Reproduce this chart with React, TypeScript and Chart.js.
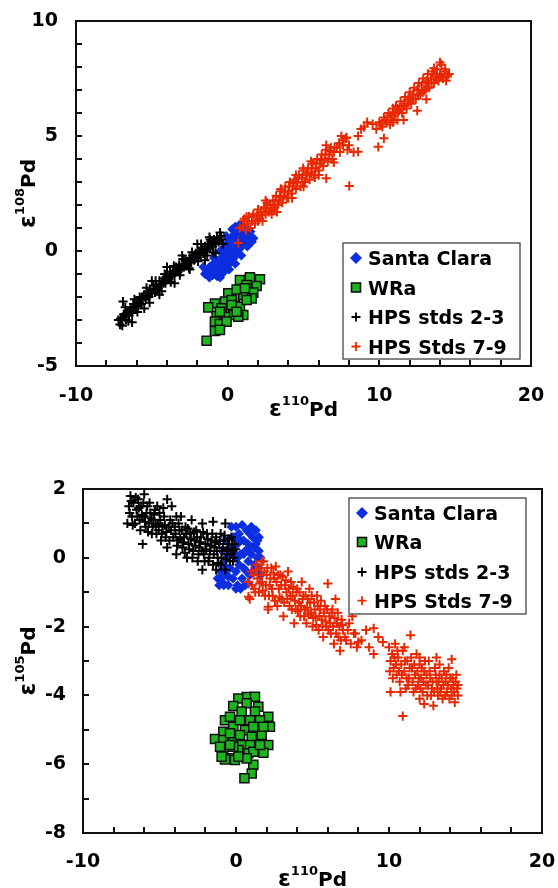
import React, { useEffect, useRef } from 'react';
import { Chart, registerables } from 'chart.js';

Chart.register(...registerables);

type P = [number, number];

const seriesNames = ['Santa Clara', 'WRa', 'HPS stds 2-3', 'HPS Stds 7-9'];
const seriesColors = ['#0b2fe0', '#1db51d', '#000000', '#e82800'];

const xTickLabels = [-10, 0, 10, 20];
const topYTickLabels = [-5, 0, 5, 10];
const bottomYTickLabels = [-8, -6, -4, -2, 0, 2];

// ---- top panel: e110Pd vs e108Pd ----
const topSantaClara: P[] = [
  [-1.4, -0.85], [-1.3, -1.0], [-1.2, -0.7], [-1.1, -0.9], [-1.0, -1.05], [-1.0, -0.6], [-0.9, -0.8],
  [-0.8, -0.5], [-0.8, -1.0], [-0.7, -0.7], [-0.6, -0.4], [-0.6, -0.9], [-0.5, -0.6], [-0.4, -0.3],
  [-0.4, -0.8], [-0.3, -0.5], [-0.2, -0.2], [-0.2, -0.7], [-0.1, -0.4], [0.0, -0.1], [0.0, -0.6],
  [0.1, -0.3], [0.2, 0.1], [0.2, -0.5], [0.3, -0.2], [0.4, 0.3], [0.4, -0.3], [0.5, 0.0], [0.6, 0.5],
  [0.6, -0.1], [0.7, 0.2], [0.8, 0.8], [0.8, 0.1], [0.9, 0.5], [1.0, 0.9], [1.0, 0.3], [1.1, 0.6],
  [1.2, 0.8], [1.3, 0.5], [1.4, 0.7], [1.5, 0.6], [0.6, 1.0], [0.4, 0.7], [0.2, 0.5], [-0.2, 0.2],
  [1.6, 0.4], [1.7, 0.55], [1.3, 0.95], [0.9, 1.1], [-1.5, -1.0], [-1.2, -1.15], [-0.7, -1.1],
  [-0.3, -0.95], [0.1, -0.8], [0.5, -0.55], [0.9, -0.2], [1.3, 0.2], [-1.6, -0.7], [-0.9, -0.3],
  [-0.5, 0.0], [0.0, 0.35], [0.5, 0.75], [0.3, 0.95], [0.8, 1.15], [1.1, 1.05], [0.5, 1.05],
  [1.5, 0.85], [-0.1, 0.65], [-0.5, -1.15],
];

const topWRa: P[] = [
  [1.47, -1.14], [2.13, -1.23], [0.81, -1.26], [1.91, -1.52], [1.25, -1.48], [1.69, -1.81],
  [0.48, -1.99], [1.03, -1.91], [0.04, -1.84], [-0.18, -2.2], [-0.84, -2.28], [-1.28, -2.45],
  [0.15, -2.49], [0.81, -2.42], [-0.4, -2.49], [-0.73, -2.83], [0.37, -2.78], [1.03, -2.78],
  [-0.18, -2.86], [-0.84, -3.07], [-0.51, -3.17], [-0.84, -3.48], [-1.39, -3.9], [0.7, -2.86],
  [0.26, -2.13], [1.58, -2.06], [1.25, -2.13], [0.59, -1.67], [1.14, -1.62], [0.26, -2.35],
  [-0.51, -2.64], [0.59, -2.64], [-0.07, -3.07], [-0.51, -3.43],
];

const topHpsStds23: P[] = [
  [-7.2, -3.0], [-7.1, -3.2], [-7.0, -2.9], [-6.9, -2.2], [-6.95, -3.25], [-6.8, -2.8], [-6.7, -3.0],
  [-6.6, -2.6], [-6.5, -2.8], [-6.4, -2.5], [-6.3, -2.7], [-6.2, -2.3], [-6.1, -2.5], [-6.0, -2.2],
  [-5.9, -2.4], [-5.8, -2.0], [-5.7, -2.3], [-5.6, -2.1], [-5.5, -1.9], [-5.4, -2.1], [-5.3, -1.8],
  [-5.2, -2.0], [-5.1, -1.7], [-5.0, -1.8], [-4.9, -1.5], [-4.8, -1.8], [-4.7, -1.5], [-4.6, -1.6],
  [-4.5, -1.3], [-4.4, -1.5], [-4.3, -1.3], [-4.2, -1.2], [-4.1, -1.4], [-4.0, -1.1], [-3.9, -1.2],
  [-3.8, -0.9], [-3.7, -1.1], [-3.6, -0.9], [-3.5, -1.0], [-3.4, -0.7], [-3.3, -0.9], [-3.2, -0.6],
  [-3.1, -0.8], [-3.0, -0.6], [-2.9, -0.7], [-2.8, -0.4], [-2.7, -0.6], [-2.6, -0.5], [-2.5, -0.3],
  [-2.4, -0.5], [-2.3, -0.2], [-2.2, -0.4], [-2.1, -0.1], [-2.0, -0.3], [-1.9, 0.0], [-1.8, -0.2],
  [-1.7, 0.1], [-1.6, -0.1], [-1.5, 0.2], [-1.4, 0.0], [-1.3, 0.3], [-1.2, 0.1], [-1.1, 0.4],
  [-1.0, 0.2], [-0.9, 0.5], [-0.8, 0.3], [-0.7, 0.6], [-0.6, 0.4], [-0.5, 0.8], [-0.4, 0.5],
  [-0.3, 0.3], [-1.5, -0.4], [-2.5, -0.8], [-3.5, -1.4], [-4.5, -1.9], [-5.5, -2.5], [-6.3, -3.1],
  [-5.0, -1.3], [-4.0, -0.7], [-3.0, -0.2], [-2.0, 0.3], [-1.2, 0.6], [-0.8, -0.1],
  [-7.05, -2.95], [-6.85, -2.75], [-6.65, -2.7], [-6.45, -2.65], [-6.25, -2.45], [-6.05, -2.4],
  [-5.85, -2.25], [-5.65, -2.0], [-5.45, -2.0], [-5.25, -1.95], [-5.05, -1.85], [-4.85, -1.65],
  [-4.65, -1.7], [-4.45, -1.45], [-4.25, -1.4], [-4.05, -1.25], [-3.85, -1.15], [-3.65, -1.05],
  [-3.45, -0.85], [-3.25, -0.75], [-3.05, -0.75], [-2.85, -0.55], [-2.65, -0.45], [-2.45, -0.35],
  [-2.25, -0.3], [-2.05, -0.15], [-1.85, -0.1], [-1.65, 0.05], [-1.45, 0.1], [-1.25, 0.2],
  [-1.05, 0.3], [-0.85, 0.4], [-0.65, 0.5], [-0.45, 0.65], [-6.75, -2.45], [-6.15, -2.1],
  [-5.35, -1.6], [-4.75, -1.3], [-4.15, -1.0], [-3.55, -0.65], [-2.95, -0.35], [-2.35, -0.05],
  [-1.75, 0.3], [-1.15, 0.5], [-6.55, -3.05], [-5.95, -2.65], [-5.15, -2.25], [-4.35, -1.75],
  [-3.75, -1.35], [-3.15, -1.05], [-2.55, -0.75], [-1.95, -0.45], [-1.35, -0.2], [-0.95, -0.05],
];

const topHpsStds79: P[] = [
  [1.0, 1.1], [1.1, 1.4], [1.2, 0.9], [1.3, 1.2], [1.4, 1.5], [1.5, 1.0], [1.6, 1.3], [1.7, 1.6],
  [1.8, 1.2], [1.9, 1.5], [2.0, 1.8], [2.1, 1.4], [2.2, 1.7], [2.3, 1.3], [2.4, 1.9], [2.5, 1.6],
  [2.6, 2.1], [2.7, 1.7], [2.8, 2.0], [2.9, 1.6], [3.0, 2.2], [3.1, 1.9], [3.2, 2.4], [3.3, 2.0],
  [3.4, 2.2], [3.5, 2.6], [3.6, 2.1], [3.7, 2.4], [3.8, 2.8], [3.9, 2.3], [4.0, 2.6], [4.1, 3.0],
  [4.2, 2.5], [4.3, 2.8], [4.4, 3.1], [4.5, 2.7], [4.6, 3.0], [4.7, 3.3], [4.8, 2.8], [4.9, 3.2],
  [5.0, 3.5], [5.1, 3.0], [5.2, 3.3], [5.3, 3.6], [5.4, 3.1], [5.5, 3.4], [5.6, 3.8], [5.7, 3.3],
  [5.8, 3.6], [5.9, 4.0], [6.0, 3.5], [6.1, 3.8], [6.2, 4.2], [6.3, 3.7], [6.4, 4.0], [6.5, 4.4],
  [6.6, 3.9], [6.7, 4.2], [6.8, 4.5], [6.9, 4.0], [7.0, 4.3], [7.2, 4.5], [7.4, 4.3], [7.6, 4.6],
  [7.8, 4.9], [7.9, 4.4], [8.0, 4.6], [8.3, 4.3], [8.6, 5.0], [8.8, 5.3], [9.0, 5.4], [9.2, 5.6],
  [8.02, 2.83], [9.93, 4.53], [10.3, 4.9], [9.56, 5.52], [0.8, 1.0], [0.7, 0.35], [1.25, 1.49],
  [7.84, 4.94], [8.6, 4.32], [6.5, 3.16], [4.98, 3.6],
  [1.05, 1.3], [1.35, 1.3], [1.65, 1.5], [1.95, 1.6], [2.25, 1.55], [2.55, 1.85], [2.85, 1.8],
  [3.15, 2.2], [3.45, 2.35], [3.75, 2.55], [4.05, 2.8], [4.35, 2.95], [4.65, 3.15], [4.95, 3.0],
  [5.25, 3.4], [5.55, 3.6], [5.85, 3.8], [6.15, 3.95], [6.45, 4.2], [6.75, 4.35], [7.05, 4.5],
  [7.35, 4.7], [7.65, 4.8], [2.0, 1.3], [3.0, 1.75], [4.0, 2.3], [5.0, 2.8], [6.0, 3.3], [7.0, 3.85],
  [2.5, 2.2], [3.5, 2.7], [4.5, 3.3], [5.5, 3.9], [6.5, 4.6], [7.5, 5.0], [3.25, 1.7], [4.25, 2.3],
  [5.75, 3.2],
  [9.8, 5.3], [10.0, 5.6], [10.2, 5.4], [10.3, 5.8], [10.5, 5.6], [10.6, 6.0], [10.7, 5.5],
  [10.8, 5.8], [10.9, 6.2], [11.0, 5.9], [11.1, 6.3], [11.2, 5.7], [11.3, 6.1], [11.4, 6.5],
  [11.5, 6.0], [11.6, 6.4], [11.7, 6.7], [11.8, 6.2], [11.9, 6.6], [12.0, 6.9], [12.1, 6.4],
  [12.2, 6.8], [12.3, 7.1], [12.4, 6.6], [12.5, 7.0], [12.6, 7.3], [12.7, 6.8], [12.8, 7.2],
  [12.9, 7.5], [13.0, 7.0], [13.1, 7.4], [13.2, 7.7], [13.3, 7.1], [13.4, 7.5], [13.5, 7.8],
  [13.6, 7.3], [13.7, 7.6], [13.8, 7.9], [13.9, 7.4], [14.0, 7.7], [14.1, 8.1], [14.2, 7.5],
  [14.3, 7.8], [14.4, 7.4], [14.5, 7.6], [14.0, 8.2], [11.6, 5.7], [12.5, 6.1], [13.1, 6.6],
  [10.1, 5.5], [10.4, 5.7], [10.75, 5.9], [11.05, 6.0], [11.35, 6.2], [11.65, 6.3], [11.95, 6.5],
  [12.25, 6.6], [12.55, 6.8], [12.85, 6.9], [13.15, 7.1], [13.45, 7.3], [13.75, 7.5], [14.05, 7.6],
  [14.35, 7.9], [14.6, 7.7], [12.0, 6.7], [12.6, 7.0], [13.2, 7.3], [13.8, 7.7], [11.2, 6.2],
  [10.9, 5.6], [13.6, 7.95],
];

// ---- bottom panel: e110Pd vs e105Pd ----
const bottomSantaClara: P[] = [
  [-1.2, -0.6], [-1.1, -0.8], [-1.0, -0.4], [-0.9, -0.7], [-0.8, -0.2], [-0.8, -0.8], [-0.6, -0.5],
  [-0.6, 0.0], [-0.5, -0.8], [-0.4, -0.3], [-0.4, 0.3], [-0.3, 0.9], [-0.2, -0.6], [-0.2, 0.6],
  [-0.1, 0.1], [0.0, -0.4], [0.0, 0.9], [0.1, -0.8], [0.1, 0.4], [0.2, -0.2], [0.2, 0.7], [0.3, 0.1],
  [0.4, -0.6], [0.4, 0.95], [0.5, -0.3], [0.5, 0.5], [0.6, 0.2], [0.6, -0.8], [0.7, 0.8], [0.8, -0.1],
  [0.8, 0.4], [0.9, -0.5], [1.0, 0.9], [1.0, 0.1], [1.1, 0.6], [1.2, -0.2], [1.2, 0.3], [1.3, 0.8],
  [1.4, 0.0], [1.4, 0.5], [1.5, -0.3], [1.5, 0.2], [-0.9, 0.2], [-0.7, 0.5], [0.3, -0.9],
  [-1.0, -0.6], [-0.7, -0.3], [-0.3, 0.1], [0.1, 0.0], [0.5, 0.1], [0.9, 0.3], [1.3, 0.4],
  [-0.1, 0.6], [0.3, 0.5], [0.7, -0.4], [1.1, -0.4], [-0.5, -0.55], [0.0, -0.9], [0.9, 0.7],
  [1.5, 0.6], [1.6, 0.0], [1.6, -0.5], [0.8, -0.75],
];

const bottomWRa: P[] = [
  [0.7, -4.05], [0.15, -4.09], [1.24, -4.04], [-0.18, -4.31], [0.7, -4.23], [1.46, -4.33],
  [0.37, -4.47], [1.24, -4.47], [2.11, -4.62], [-0.72, -4.72], [1.57, -4.72], [2.22, -4.91],
  [-0.18, -4.91], [0.59, -5.01], [-0.83, -5.06], [1.68, -5.15], [-1.37, -5.27], [-0.18, -5.25],
  [1.03, -5.2], [-0.83, -5.3], [2.11, -5.44], [0.37, -5.44], [0.92, -5.44], [-0.83, -5.59],
  [0.15, -5.59], [1.79, -5.67], [0.81, -5.68], [-0.39, -5.83], [-0.72, -5.86], [-0.07, -5.88],
  [1.13, -6.02], [1.03, -6.27], [0.55, -6.41], [1.13, -5.64], [-0.18, -5.49], [-0.39, -4.62],
  [0.26, -4.72], [0.92, -4.72], [1.13, -4.91], [1.79, -4.91], [0.26, -5.15], [1.57, -5.44],
  [-0.39, -5.1], [-0.39, -5.44], [0.7, -5.83], [0.15, -5.78], [-1.04, -5.49], [-0.94, -5.78],
];

const bottomHpsStds23: P[] = [
  [-7.1, 1.0], [-7.0, 1.5], [-6.9, 1.8], [-6.8, 1.2], [-6.7, 1.6], [-6.6, 1.0], [-6.5, 1.4],
  [-6.4, 1.7], [-6.3, 1.1], [-6.2, 1.5], [-6.1, 0.4], [-6.0, 1.85], [-6.0, 1.2], [-5.9, 0.9],
  [-5.8, 1.5], [-5.7, 1.0], [-5.6, 1.3], [-5.5, 0.7], [-5.4, 1.1], [-5.3, 1.4], [-5.2, 0.7],
  [-5.1, 1.0], [-5.0, 1.3], [-4.9, 0.5], [-4.8, 0.9], [-4.7, 1.2], [-4.6, 0.6], [-4.5, 1.7],
  [-4.5, 0.3], [-4.4, 0.9], [-4.3, 1.1], [-4.2, 1.5], [-4.1, 0.6], [-4.0, 0.9], [-3.9, 0.1],
  [-3.9, 1.2], [-3.8, 0.5], [-3.7, 0.8], [-3.6, 1.2], [-3.5, 0.3], [-3.4, 0.6], [-3.3, 0.9],
  [-3.2, 0.0], [-3.1, 0.4], [-3.0, 0.7], [-2.9, 1.1], [-2.8, 0.2], [-2.7, 0.5], [-2.6, 0.8],
  [-2.5, -0.1], [-2.4, 0.3], [-2.3, 0.6], [-2.2, -0.35], [-2.2, 1.0], [-2.1, 0.1], [-2.0, 0.4],
  [-1.9, 0.7], [-1.8, -0.1], [-1.7, 0.2], [-1.6, 0.5], [-1.5, 1.05], [-1.5, -0.2], [-1.4, 0.3],
  [-1.3, 0.6], [-1.3, -0.35], [-1.2, 0.0], [-1.1, 0.4], [-1.0, 0.7], [-1.0, -0.2], [-0.9, 0.2],
  [-0.8, 0.5], [-0.7, -0.35], [-0.7, 1.0], [-0.6, 0.1], [-0.5, 0.4], [-0.4, -0.1], [-0.3, 0.6],
  [-0.2, 0.2], [-0.2, -0.1], [-0.1, 0.4],
  [-6.95, 1.3], [-6.85, 1.65], [-6.75, 0.95], [-6.55, 1.75], [-6.45, 1.2], [-6.35, 1.45],
  [-6.25, 0.8], [-6.15, 1.25], [-6.05, 1.6], [-5.95, 1.05], [-5.85, 1.3], [-5.75, 0.75],
  [-5.65, 1.6], [-5.55, 1.15], [-5.45, 0.9], [-5.35, 1.25], [-5.25, 0.95], [-5.15, 1.5],
  [-5.05, 0.8], [-4.95, 1.1], [-4.85, 0.7], [-4.75, 1.45], [-4.65, 0.95], [-4.55, 0.75],
  [-4.35, 0.5], [-4.25, 0.8], [-4.15, 1.0], [-3.95, 0.7], [-3.85, 0.35], [-3.75, 1.0],
  [-3.65, 0.55], [-3.55, 0.8], [-3.45, 0.45], [-3.35, 0.15], [-3.25, 0.7], [-3.15, 0.85],
  [-3.05, 0.25], [-2.95, 0.55], [-2.85, 0.0], [-2.75, 0.75], [-2.65, 0.35], [-2.55, 0.6],
  [-2.45, 0.1], [-2.35, 0.45], [-2.25, 0.2], [-2.15, 0.75], [-2.05, -0.1], [-1.95, 0.25],
  [-1.85, 0.55], [-1.75, 0.0], [-1.65, 0.35], [-1.55, 0.7], [-1.45, 0.1], [-1.35, 0.45],
  [-1.25, 0.2], [-1.15, -0.15], [-1.05, 0.5], [-0.95, 0.0], [-0.85, 0.3], [-0.75, 0.65],
  [-0.65, -0.05], [-0.55, 0.25], [-0.45, 0.55], [-0.35, 0.1], [-0.25, 0.4], [-0.15, 0.0],
  [-0.05, 0.25],
];

const bottomHpsStds79: P[] = [
  [0.8, -0.7], [0.9, -1.2], [1.0, -0.4], [1.2, -0.9], [1.3, -0.2], [1.4, -0.6], [1.5, -1.0],
  [1.6, -0.3], [1.7, -0.7], [1.8, -0.1], [1.9, -1.1], [2.0, -0.5], [2.1, -1.5], [2.2, -0.8],
  [2.3, -0.3], [2.4, -1.1], [2.5, -0.6], [2.6, -0.25], [2.7, -1.4], [2.8, -0.9], [2.9, -0.5],
  [3.0, -1.2], [3.1, -1.7], [3.2, -0.8], [3.3, -1.0], [3.4, -0.4], [3.5, -1.4], [3.6, -0.7],
  [3.7, -1.1], [3.8, -1.9], [3.9, -1.5], [4.0, -0.9], [4.1, -1.3], [4.2, -1.7], [4.3, -0.7],
  [4.4, -1.1], [4.5, -1.5], [4.6, -1.9], [4.7, -1.2], [4.8, -0.9], [4.9, -1.6], [5.0, -2.0],
  [5.1, -1.3], [5.2, -1.7], [5.3, -1.1], [5.4, -2.1], [5.5, -1.5], [5.6, -1.8], [5.7, -2.3],
  [5.8, -1.4], [5.9, -2.0], [6.0, -0.75], [6.1, -1.7], [6.2, -2.2], [6.3, -1.5], [6.4, -2.5],
  [6.5, -1.2], [6.6, -1.9], [6.7, -2.3], [6.8, -2.7], [6.9, -1.8], [7.0, -2.1], [7.2, -2.4],
  [7.4, -1.9], [7.6, -1.7], [7.7, -2.2], [7.9, -2.6], [8.2, -2.4], [8.5, -2.1], [8.7, -2.6],
  [9.0, -2.05], [9.0, -2.8], [9.3, -2.3], [9.6, -2.45], [10.0, -2.6], [10.1, -3.0], [10.1, -3.9],
  [10.2, -2.8], [10.3, -3.2], [10.4, -2.5], [10.5, -3.4], [10.6, -2.9], [10.7, -3.6], [10.8, -3.1],
  [10.9, -4.6], [10.9, -2.7], [11.0, -3.3], [11.1, -3.8], [11.2, -3.0], [11.3, -3.5], [11.4, -2.25],
  [11.5, -3.2], [11.6, -3.9], [11.7, -3.4], [11.8, -2.8], [11.9, -3.7], [12.0, -4.1], [12.0, -3.1],
  [12.1, -3.5], [12.2, -3.9], [12.3, -4.25], [12.3, -3.3], [12.4, -3.7], [12.5, -4.0], [12.6, -3.0],
  [12.7, -3.5], [12.8, -3.8], [12.9, -4.3], [13.0, -3.2], [13.1, -2.9], [13.1, -3.6], [13.2, -4.0],
  [13.3, -3.4], [13.4, -3.8], [13.5, -4.1], [13.6, -3.3], [13.7, -3.6], [13.8, -3.9], [13.9, -3.2],
  [14.0, -3.5], [14.1, -2.95], [14.1, -4.0], [14.2, -3.7], [14.3, -4.2], [14.4, -3.4], [14.5, -3.7],
  [14.5, -4.0], [1.68, -0.11], [2.11, -1.42], [0.81, -1.13],
  [1.05, -0.8], [1.15, -0.5], [1.25, -1.0], [1.35, -0.35], [1.55, -0.75], [1.65, -0.5], [1.75, -0.95],
  [1.85, -0.4], [1.95, -0.8], [2.05, -0.3], [2.15, -1.1], [2.25, -0.6], [2.35, -0.9], [2.45, -0.45],
  [2.55, -1.25], [2.65, -0.7], [2.75, -0.5], [2.85, -1.15], [2.95, -0.8], [3.05, -0.55], [3.15, -1.3],
  [3.25, -0.65], [3.35, -1.2], [3.45, -0.9], [3.55, -1.1], [3.65, -1.5], [3.75, -0.85], [3.85, -1.25],
  [3.95, -1.0], [4.05, -1.55], [4.15, -1.0], [4.25, -1.4], [4.35, -1.2], [4.45, -1.7], [4.55, -1.1],
  [4.65, -1.45], [4.75, -1.65], [4.85, -1.3], [4.95, -1.1], [5.05, -1.75], [5.15, -1.5], [5.25, -1.95],
  [5.35, -1.4], [5.45, -1.7], [5.55, -1.25], [5.65, -2.0], [5.75, -1.6], [5.85, -1.85], [5.95, -1.5],
  [6.05, -2.1], [6.15, -1.9], [6.25, -1.6], [6.35, -2.0], [6.45, -1.75], [6.55, -2.2], [6.65, -1.6],
  [6.75, -2.0], [6.85, -2.4], [6.95, -1.95], [7.1, -2.3], [7.3, -2.1], [7.5, -2.5], [7.8, -2.2],
  [8.0, -2.45],
  [10.05, -3.3], [10.25, -3.5], [10.35, -2.9], [10.45, -3.1], [10.55, -2.7], [10.65, -3.3],
  [10.75, -3.9], [10.85, -3.4], [11.05, -3.0], [11.15, -3.5], [11.25, -3.7], [11.35, -3.2],
  [11.45, -2.9], [11.55, -3.6], [11.65, -3.1], [11.75, -3.8], [11.85, -3.3], [11.95, -3.5],
  [12.05, -3.8], [12.15, -3.2], [12.25, -3.6], [12.35, -3.0], [12.45, -3.4], [12.55, -3.7],
  [12.65, -3.3], [12.75, -4.0], [12.85, -3.6], [12.95, -3.9], [13.05, -3.4], [13.15, -3.8],
  [13.25, -3.6], [13.35, -3.9], [13.45, -3.5], [13.55, -3.7], [13.65, -4.0], [13.75, -3.4],
  [13.85, -3.7], [13.95, -4.1], [14.05, -3.8], [14.15, -3.5], [14.25, -3.9], [14.35, -3.6],
  [14.45, -3.8], [11.0, -2.6], [12.0, -2.9], [13.3, -3.1],
];

const FONT = '"DejaVu Sans", Verdana, sans-serif';

type TitlePart = { t: string; size: number; dy: number };

function titleParts(num: string): TitlePart[] {
  return [
    { t: 'ε', size: 23, dy: 0 },
    { t: num, size: 13, dy: -11 },
    { t: 'Pd', size: 20, dy: 0 },
  ];
}

function drawRich(ctx: CanvasRenderingContext2D, parts: TitlePart[], cx: number, baseline: number) {
  let total = 0;
  const widths: number[] = [];
  for (const p of parts) {
    ctx.font = `bold ${p.size}px ${FONT}`;
    const w = ctx.measureText(p.t).width;
    widths.push(w);
    total += w;
  }
  let x = cx - total / 2;
  ctx.textAlign = 'left';
  ctx.textBaseline = 'alphabetic';
  parts.forEach((p, i) => {
    ctx.font = `bold ${p.size}px ${FONT}`;
    ctx.fillText(p.t, x, baseline + p.dy);
    x += widths[i];
  });
}

function drawLegendMarker(ctx: CanvasRenderingContext2D, i: number, cx: number, cy: number) {
  ctx.save();
  if (i === 0) {
    ctx.fillStyle = seriesColors[0];
    ctx.beginPath();
    ctx.moveTo(cx, cy - 6);
    ctx.lineTo(cx + 6, cy);
    ctx.lineTo(cx, cy + 6);
    ctx.lineTo(cx - 6, cy);
    ctx.closePath();
    ctx.fill();
  } else if (i === 1) {
    ctx.fillStyle = seriesColors[1];
    ctx.fillRect(cx - 4.5, cy - 4.5, 9, 9);
    ctx.strokeStyle = '#111';
    ctx.lineWidth = 1.6;
    ctx.strokeRect(cx - 4.5, cy - 4.5, 9, 9);
  } else {
    ctx.strokeStyle = seriesColors[i];
    ctx.lineWidth = 1.8;
    ctx.beginPath();
    ctx.moveTo(cx - 4.5, cy);
    ctx.lineTo(cx + 4.5, cy);
    ctx.moveTo(cx, cy - 4.5);
    ctx.lineTo(cx, cy + 4.5);
    ctx.stroke();
  }
  ctx.restore();
}

type PanelCfg = {
  data: P[][];
  yMin: number;
  yMax: number;
  yLabels: number[];
  yTitleNum: string;
  pad: { top: number; right: number };
  yAxisWidth: number;
  xAxisHeight: number;
  xLabelPad: number;
  yLabelPad: number;
  xTitleBaseline: number;
  legend: { x: number; y: number; w: number; h: number; markerX: number; textX: number; baselines: number[] };
};

function makePlugin(cfg: PanelCfg) {
  return {
    id: 'panelDecor',
    afterDraw(chart: any) {
      const ctx: CanvasRenderingContext2D = chart.ctx;
      const a = chart.chartArea;
      const xs = chart.scales.x;
      const ys = chart.scales.y;
      ctx.save();
      ctx.strokeStyle = '#111';
      ctx.lineWidth = 2;
      ctx.beginPath();
      xs.ticks.forEach((t: any) => {
        if (t.value <= xs.min || t.value >= xs.max) return;
        const px = Math.round(xs.getPixelForValue(t.value));
        ctx.moveTo(px, a.bottom);
        ctx.lineTo(px, a.bottom - 6);
      });
      ys.ticks.forEach((t: any) => {
        if (t.value <= ys.min || t.value >= ys.max) return;
        const py = Math.round(ys.getPixelForValue(t.value));
        ctx.moveTo(a.left, py);
        ctx.lineTo(a.left + 6, py);
      });
      ctx.stroke();
      ctx.strokeRect(a.left, a.top, a.right - a.left, a.bottom - a.top);

      ctx.fillStyle = '#000';
      drawRich(ctx, titleParts('110'), (a.left + a.right) / 2, cfg.xTitleBaseline);
      ctx.save();
      ctx.translate(35, (a.top + a.bottom) / 2);
      ctx.rotate(-Math.PI / 2);
      drawRich(ctx, titleParts(cfg.yTitleNum), 0, 0);
      ctx.restore();

      const L = cfg.legend;
      ctx.fillStyle = '#fff';
      ctx.fillRect(L.x, L.y, L.w, L.h);
      ctx.strokeStyle = '#444';
      ctx.lineWidth = 1.3;
      ctx.strokeRect(L.x, L.y, L.w, L.h);
      ctx.font = `bold 19px ${FONT}`;
      ctx.textAlign = 'left';
      ctx.textBaseline = 'alphabetic';
      seriesNames.forEach((name, i) => {
        drawLegendMarker(ctx, i, L.markerX, L.baselines[i] - 7);
        ctx.fillStyle = '#000';
        ctx.fillText(name, L.textX, L.baselines[i]);
      });
      ctx.restore();
    },
  };
}

function zeroPad(s: any) {
  s.paddingLeft = 0;
  s.paddingRight = 0;
  s.paddingTop = 0;
  s.paddingBottom = 0;
}

function Panel({ cfg }: { cfg: PanelCfg }) {
  const ref = useRef<HTMLCanvasElement>(null);
  useEffect(() => {
    const canvas = ref.current!;
    const styles = [
      { pointStyle: 'rectRot', pointRadius: 5, backgroundColor: seriesColors[0], borderColor: seriesColors[0], borderWidth: 0, order: 4 },
      { pointStyle: 'rect', pointRadius: 6.4, backgroundColor: seriesColors[1], borderColor: '#111', borderWidth: 1.5, order: 3 },
      { pointStyle: 'cross', pointRadius: 4.6, backgroundColor: seriesColors[2], borderColor: seriesColors[2], borderWidth: 2, order: 2 },
      { pointStyle: 'cross', pointRadius: 4.6, backgroundColor: seriesColors[3], borderColor: seriesColors[3], borderWidth: 2, order: 1 },
    ];
    const datasets = cfg.data.map((arr, i) => ({
      label: seriesNames[i],
      data: arr.map(([x, y]) => ({ x, y })),
      showLine: false,
      pointHoverRadius: styles[i].pointRadius,
      ...styles[i],
    }));
    const tickFont = { family: FONT, size: 19, weight: 'bold' as const };
    const chart = new Chart(canvas, {
      type: 'scatter',
      data: { datasets: datasets as any },
      plugins: [makePlugin(cfg) as any],
      options: {
        animation: false,
        responsive: false,
        devicePixelRatio: 1,
        layout: { padding: { top: cfg.pad.top, right: cfg.pad.right, left: 0, bottom: 0 } },
        plugins: { legend: { display: false }, tooltip: { enabled: false } },
        scales: {
          x: {
            type: 'linear',
            min: -10,
            max: 20,
            grid: { display: false, drawTicks: false },
            border: { display: false },
            ticks: {
              stepSize: 2,
              autoSkip: false,
              maxRotation: 0,
              padding: cfg.xLabelPad,
              color: '#000',
              font: tickFont,
              callback: (v: any) => (xTickLabels.includes(Number(v)) ? String(v) : ''),
            },
            afterFit: (s: any) => { s.height = cfg.xAxisHeight; zeroPad(s); },
          },
          y: {
            type: 'linear',
            min: cfg.yMin,
            max: cfg.yMax,
            grid: { display: false, drawTicks: false },
            border: { display: false },
            ticks: {
              stepSize: 1,
              autoSkip: false,
              padding: cfg.yLabelPad,
              color: '#000',
              font: tickFont,
              callback: (v: any) => (cfg.yLabels.includes(Number(v)) ? String(v) : ''),
            },
            afterFit: (s: any) => { s.width = cfg.yAxisWidth; zeroPad(s); },
          },
        },
      } as any,
    });
    return () => chart.destroy();
  }, [cfg]);
  return <canvas ref={ref} width={558} height={444} style={{ display: 'block', width: 558, height: 444 }} />;
}

const topCfg: PanelCfg = {
  data: [topSantaClara, topWRa, topHpsStds23, topHpsStds79],
  yMin: -5,
  yMax: 10,
  yLabels: topYTickLabels,
  yTitleNum: '108',
  pad: { top: 21, right: 27 },
  yAxisWidth: 76,
  xAxisHeight: 78,
  xLabelPad: 19,
  yLabelPad: 18,
  xTitleBaseline: 416,
  legend: { x: 343, y: 243, w: 177, h: 116, markerX: 356, textX: 368, baselines: [265, 294.5, 324, 353.5] },
};

const bottomCfg: PanelCfg = {
  data: [bottomSantaClara, bottomWRa, bottomHpsStds23, bottomHpsStds79],
  yMin: -8,
  yMax: 2,
  yLabels: bottomYTickLabels,
  yTitleNum: '105',
  pad: { top: 45, right: 16 },
  yAxisWidth: 83,
  xAxisHeight: 55,
  xLabelPad: 18,
  yLabelPad: 17,
  xTitleBaseline: 442,
  legend: { x: 349, y: 54, w: 177, h: 116, markerX: 362, textX: 374, baselines: [76, 105, 135, 163.7] },
};

export default function App() {
  return (
    <div style={{ position: 'absolute', left: 0, top: 0, width: 558, height: 888, background: '#fff' }}>
      <Panel cfg={topCfg} />
      <Panel cfg={bottomCfg} />
    </div>
  );
}
